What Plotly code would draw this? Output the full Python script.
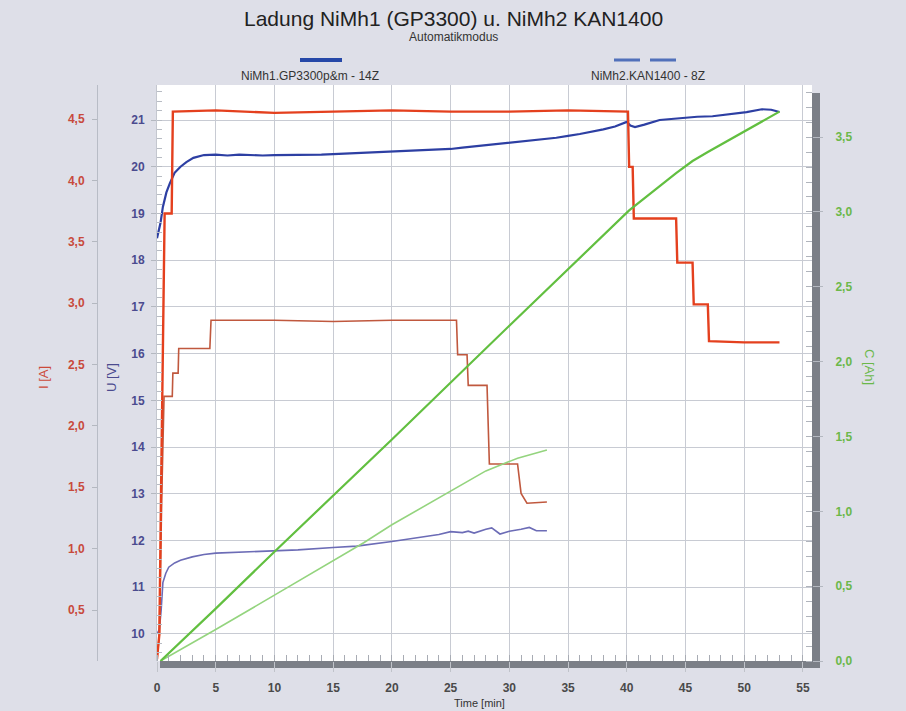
import plotly.graph_objects as go

# ---------------- data ----------------
# NiMh1 GP3300 (14 cells)
t_u1 = [0, 0.3, 0.5, 0.8, 1.1, 1.5, 2.0, 2.5, 3.1, 4, 5, 6, 7, 8, 9, 10, 12, 14, 15, 16, 18, 20, 22, 24, 25, 26, 28, 30, 32, 34, 35, 36, 38, 39, 40, 40.3, 40.7, 41.5, 42.8, 44, 45.1, 46, 47.3, 48.5, 49.5, 50.2, 51.5, 52.3, 53.0]
u1 = [18.47, 18.8, 19.14, 19.45, 19.65, 19.87, 20.0, 20.1, 20.19, 20.25, 20.26, 20.24, 20.26, 20.25, 20.24, 20.25, 20.25, 20.26, 20.27, 20.28, 20.3, 20.32, 20.34, 20.36, 20.38, 20.41, 20.46, 20.51, 20.56, 20.62, 20.66, 20.7, 20.8, 20.86, 20.96, 20.88, 20.85, 20.9, 21.0, 21.03, 21.06, 21.07, 21.08, 21.12, 21.15, 21.17, 21.23, 21.22, 21.17]

t_i1 = [0, 0.2, 0.35, 0.5, 0.65, 1.25, 1.35, 5, 10, 15, 20, 25, 30, 35, 40.1, 40.2, 40.5, 40.6, 44.2, 44.3, 45.6, 45.7, 46.9, 47.0, 50, 53.0]
i1 = [0.1, 0.3, 1.5, 2.9, 3.73, 3.73, 4.56, 4.57, 4.55, 4.56, 4.57, 4.56, 4.56, 4.57, 4.56, 4.11, 4.11, 3.69, 3.69, 3.33, 3.33, 2.99, 2.99, 2.69, 2.68, 2.68]

t_c1 = [0.3, 5, 10, 20, 30, 40.2, 44.2, 45.6, 46.9, 50, 53.0]
c1 = [0.0, 0.35, 0.73, 1.48, 2.24, 3.01, 3.26, 3.34, 3.40, 3.54, 3.67]

# NiMh2 KAN1400 (8 cells)
t_u2 = [0, 0.2, 0.35, 0.5, 0.75, 1, 1.5, 2, 3, 4, 5, 7, 10, 12, 15, 17, 20, 22, 24, 25, 26, 26.5, 27, 28, 28.5, 29.2, 30, 31, 31.7, 32.3, 33.2]
u2 = [10.0, 10.1, 10.5, 11.1, 11.3, 11.43, 11.52, 11.58, 11.65, 11.7, 11.73, 11.75, 11.78, 11.8, 11.85, 11.88, 11.98, 12.05, 12.13, 12.19, 12.17, 12.2, 12.16, 12.24, 12.27, 12.14, 12.2, 12.24, 12.28, 12.21, 12.21]

t_i2 = [0, 0.2, 0.4, 0.6, 1.3, 1.35, 1.8, 1.85, 4.5, 4.6, 10, 15, 20, 25.5, 25.6, 26.4, 26.5, 28.1, 28.3, 30.7, 31.0, 31.5, 33.2]
i2 = [0.1, 0.3, 1.4, 2.24, 2.24, 2.43, 2.43, 2.63, 2.63, 2.86, 2.86, 2.85, 2.86, 2.86, 2.58, 2.58, 2.33, 2.33, 1.69, 1.69, 1.45, 1.37, 1.38]

t_c2 = [0.3, 5, 10, 15, 17.6, 20, 25.5, 28, 30.7, 33.2]
c2 = [0.0, 0.21, 0.44, 0.67, 0.79, 0.91, 1.16, 1.27, 1.355, 1.41]

x_ticks = list(range(0, 60, 5))
u_ticks = list(range(10, 22))
i_ticks = [0.5, 1.0, 1.5, 2.0, 2.5, 3.0, 3.5, 4.0, 4.5]
c_ticks = [0.0, 0.5, 1.0, 1.5, 2.0, 2.5, 3.0, 3.5]

# ---------------- figure ----------------
W, H = 906, 711
ML, MR, MT, MB = 20, 20, 85, 50
PW = W - ML - MR
PH = H - MT - MB


def px_x(px):
    return (px - ML) / PW


def px_y(py):
    return (H - MB - py) / PH


FONT = "Liberation Sans, Arial, sans-serif"
C_I1 = "#e4401e"
C_I2 = "#c0583e"
C_U1 = "#2d3fa3"
C_U2 = "#6c6cb6"
C_C1 = "#62bf40"
C_C2 = "#94d47e"

fig = go.Figure()
fig.add_trace(go.Scatter(x=t_c2, y=c2, yaxis="y3", mode="lines", line=dict(color=C_C2, width=1.6), name="C NiMh2"))
fig.add_trace(go.Scatter(x=t_c1, y=c1, yaxis="y3", mode="lines", line=dict(color=C_C1, width=2.2), name="C NiMh1"))
fig.add_trace(go.Scatter(x=t_u2, y=u2, yaxis="y", mode="lines", line=dict(color=C_U2, width=1.6), name="U NiMh2"))
fig.add_trace(go.Scatter(x=t_i2, y=i2, yaxis="y2", mode="lines", line=dict(color=C_I2, width=1.6), name="I NiMh2"))
fig.add_trace(go.Scatter(x=t_u1, y=u1, yaxis="y", mode="lines", line=dict(color=C_U1, width=2.2), name="U NiMh1"))
fig.add_trace(go.Scatter(x=t_i1, y=i1, yaxis="y2", mode="lines", line=dict(color=C_I1, width=2.4), name="I NiMh1"))

grid = "#c8cbd3"
TF = dict(size=12, weight="bold")
fig.update_layout(
    width=W, height=H,
    margin=dict(l=ML, r=MR, t=MT, b=MB),
    paper_bgcolor="#dedfe8",
    plot_bgcolor="#ffffff",
    showlegend=False,
    separators=",.",
    font=dict(family=FONT, size=11, color="#333333"),
    xaxis=dict(
        domain=[px_x(157), px_x(812)], range=[0, 55.77], tickvals=x_ticks,
        showgrid=True, gridcolor=grid, gridwidth=1, zeroline=False,
        ticks="outside", ticklen=10, tickcolor="#c0c3ca", ticklabelstandoff=6,
        tickfont=dict(TF, color="#4a4a4a"),
        minor=dict(dtick=1, ticks="inside", ticklen=6, tickcolor="#a8acb4", showgrid=False),
        showline=False,
    ),
    yaxis=dict(
        anchor="x", side="left", range=[9.422, 21.749], tickvals=u_ticks,
        showgrid=True, gridcolor=grid, gridwidth=1, zeroline=False,
        ticks="outside", ticklen=5, tickcolor="#b4b8c0", ticklabelstandoff=4,
        tickfont=dict(TF, color="#4b4b8f"),
        minor=dict(dtick=0.2, ticks="inside", ticklen=5, tickcolor="#b8bcc4", showgrid=False),
        showline=True, linecolor="#c4c7cf", linewidth=1,
    ),
    yaxis2=dict(
        overlaying="y", anchor="free", position=px_x(97), side="left",
        range=[0.0845, 4.777], tickvals=i_ticks, tickformat=".1f",
        showgrid=False, zeroline=False,
        ticks="outside", ticklen=5, tickcolor="#b4b8c0", ticklabelstandoff=5,
        tickfont=dict(TF, color="#c84a3c"),
        showline=True, linecolor="#b8bcc6", linewidth=1,
    ),
    yaxis3=dict(
        overlaying="y", anchor="x", side="right",
        range=[0, 3.848], tickvals=c_ticks, tickformat=".1f",
        showgrid=False, zeroline=False,
        ticks="outside", ticklen=10, tickcolor="#b4b8c0", ticklabelstandoff=10,
        tickfont=dict(TF, color="#6bb84a"),
        minor=dict(dtick=0.1, ticks="inside", ticklen=6, tickcolor="#b0b4bc", showgrid=False),
        showline=False,
    ),
)

# frame bars (3D-like border)
bar = "#7b7f87"
fig.add_shape(type="rect", xref="paper", yref="paper",
              x0=px_x(812), x1=px_x(820), y0=px_y(668), y1=px_y(93),
              fillcolor=bar, line=dict(width=0), layer="below")
fig.add_shape(type="rect", xref="paper", yref="paper",
              x0=px_x(160), x1=px_x(820), y0=px_y(668), y1=px_y(661),
              fillcolor=bar, line=dict(width=0), layer="below")

# legend (symbol above text)
fig.add_shape(type="line", xref="paper", yref="paper",
              x0=px_x(300), x1=px_x(342), y0=px_y(60), y1=px_y(60),
              line=dict(color="#2648a8", width=4))
fig.add_shape(type="line", xref="paper", yref="paper",
              x0=px_x(614), x1=px_x(683), y0=px_y(60), y1=px_y(60),
              line=dict(color="#5170ba", width=3, dash="26px,10px"))

annotations = [
    dict(text="Ladung NiMh1 (GP3300) u. NiMh2 KAN1400", x=px_x(453), y=px_y(18),
         font=dict(size=21, color="#222222")),
    dict(text="Automatikmodus", x=px_x(453), y=px_y(37), font=dict(size=12, color="#333333")),
    dict(text="NiMh1.GP3300p&amp;m - 14Z", x=px_x(310), y=px_y(76), font=dict(size=12, color="#333333")),
    dict(text="NiMh2.KAN1400 - 8Z", x=px_x(648), y=px_y(76), font=dict(size=12, color="#333333")),
    dict(text="Time [min]", x=px_x(480), y=px_y(703), font=dict(size=11, color="#333333")),
    dict(text="I [A]", x=px_x(43), y=px_y(378), textangle=-90, font=dict(size=13, color="#cc4a3a")),
    dict(text="U [V]", x=px_x(111), y=px_y(378), textangle=-90, font=dict(size=13, color="#4b4b8f")),
    dict(text="C [Ah]", x=px_x(870), y=px_y(367), textangle=90, font=dict(size=13, color="#6bb84a")),
]
for a in annotations:
    fig.add_annotation(xref="paper", yref="paper", showarrow=False,
                       xanchor="center", yanchor="middle", **a)

fig.write_html("out.html", config={"displayModeBar": False},
               post_script="document.body.style.margin='0';document.body.style.overflow='hidden';")
